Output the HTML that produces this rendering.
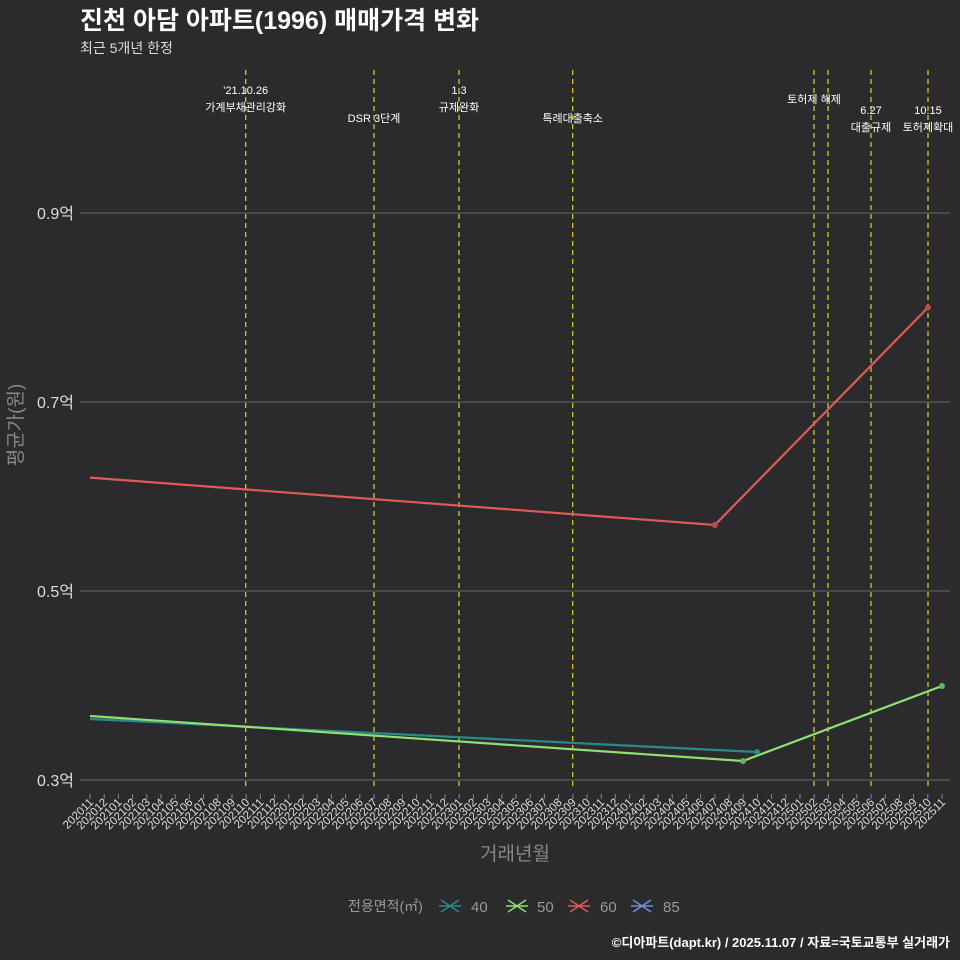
<!DOCTYPE html>
<html><head><meta charset="utf-8"><style>
body{margin:0;background:#2b2b2d;}
svg{display:block;font-family:"Liberation Sans","Noto Sans CJK KR",sans-serif;}
</style></head><body>
<svg width="960" height="960" viewBox="0 0 960 960">
<rect width="960" height="960" fill="#2b2b2d"/>
<text x="80" y="29" fill="#fff" font-size="25" font-weight="bold">진천 아담 아파트(1996) 매매가격 변화</text>
<text x="80" y="53" fill="#ddd" font-size="14">최근 5개년 한정</text>
<g stroke="#6a6a6a" stroke-width="1">
<line x1="80" x2="950" y1="213" y2="213"/><line x1="80" x2="950" y1="402" y2="402"/>
<line x1="80" x2="950" y1="591" y2="591"/><line x1="80" x2="950" y1="780" y2="780"/>
</g>
<g fill="#ddd" font-size="16" text-anchor="end">
<text x="74" y="219">0.9억</text><text x="74" y="408">0.7억</text><text x="74" y="597">0.5억</text><text x="74" y="786">0.3억</text>
</g>
<text transform="translate(22,425) rotate(-90)" fill="#888" font-size="19" text-anchor="middle">평균가(원)</text>
<g stroke="#cccc22" stroke-width="1.3" stroke-dasharray="5,4">
<line x1="245.7" x2="245.7" y1="70" y2="790"/><line x1="374" x2="374" y1="70" y2="790"/>
<line x1="459" x2="459" y1="70" y2="790"/><line x1="572.7" x2="572.7" y1="70" y2="790"/>
<line x1="814" x2="814" y1="70" y2="790"/><line x1="828" x2="828" y1="70" y2="790"/>
<line x1="871" x2="871" y1="70" y2="790"/><line x1="928" x2="928" y1="70" y2="790"/>
</g>
<g fill="#fff" font-size="11" text-anchor="middle">
<text x="245.7" y="94">'21.10.26</text><text x="245.7" y="111">가계부채관리강화</text>
<text x="374" y="122">DSR 3단계</text>
<text x="459" y="94">1.3</text><text x="459" y="111">규제완화</text>
<text x="572.7" y="122">특례대출축소</text>
<text x="814" y="103">토허제 해제</text>
<text x="871" y="114">6.27</text><text x="871" y="131">대출규제</text>
<text x="928" y="114">10.15</text><text x="928" y="131">토허제확대</text>
</g>
<g stroke-width="2.2" fill="none">
<polyline stroke="#2a8a8a" points="90,719 757,752"/>
<polyline stroke="#90e070" points="90,716 743,761 942,686"/>
<polyline stroke="#e05a5a" points="90,477.6 714.8,525 928,307.5"/>
</g>
<circle cx="757" cy="752" r="3" fill="#2a8a8a"/>
<circle cx="743" cy="761" r="3" fill="#5cb85c"/><circle cx="942" cy="686" r="3" fill="#5cb85c"/>
<circle cx="714.8" cy="525" r="3" fill="#c04a4a"/><circle cx="928" cy="307.5" r="3" fill="#c04a4a"/>
<g id="ticks" stroke="#888" stroke-width="1"></g>
<g id="xl" fill="#ddd" font-size="11.5"></g>
<text x="515" y="860" fill="#888" font-size="19" text-anchor="middle">거래년월</text>
<g font-size="14">
<text x="348" y="911" fill="#999">전용면적(㎡)</text>
<g stroke-width="1.5">
<line x1="441" y1="900" x2="459" y2="912" stroke="#2a8a8a"/><line x1="441" y1="912" x2="459" y2="900" stroke="#2a8a8a"/><line x1="439" y1="906" x2="461" y2="906" stroke="#2a8a8a"/>
<line x1="508" y1="900" x2="526" y2="912" stroke="#90e070"/><line x1="508" y1="912" x2="526" y2="900" stroke="#90e070"/><line x1="506" y1="906" x2="528" y2="906" stroke="#90e070"/>
<line x1="570" y1="900" x2="588" y2="912" stroke="#e05a5a"/><line x1="570" y1="912" x2="588" y2="900" stroke="#e05a5a"/><line x1="568" y1="906" x2="590" y2="906" stroke="#e05a5a"/>
<line x1="633" y1="900" x2="651" y2="912" stroke="#7090d0"/><line x1="633" y1="912" x2="651" y2="900" stroke="#7090d0"/><line x1="631" y1="906" x2="653" y2="906" stroke="#7090d0"/>
</g>
<text x="471" y="912" fill="#999" font-size="15">40</text><text x="537" y="912" fill="#999" font-size="15">50</text>
<text x="600" y="912" fill="#999" font-size="15">60</text><text x="663" y="912" fill="#999" font-size="15">85</text>
</g>
<text x="950" y="947" fill="#fff" font-size="13" font-weight="bold" text-anchor="end">©디아파트(dapt.kr) / 2025.11.07 / 자료=국토교통부 실거래가</text>
<script>
var t=document.getElementById('ticks'),xl=document.getElementById('xl'),ns='http://www.w3.org/2000/svg';
for(var i=0;i<61;i++){var x=90+i*14.2;var m=(10+i)%12+1,y=2020+Math.floor((10+i)/12);
var s=y+(m<10?'0':'')+m;
var l=document.createElementNS(ns,'line');l.setAttribute('x1',x);l.setAttribute('x2',x);l.setAttribute('y1',794);l.setAttribute('y2',799);t.appendChild(l);
var tx=document.createElementNS(ns,'text');tx.setAttribute('transform','translate('+(x+4)+',803) rotate(-45)');tx.setAttribute('text-anchor','end');tx.textContent=s;xl.appendChild(tx);}
</script>
</svg>
</body></html>
